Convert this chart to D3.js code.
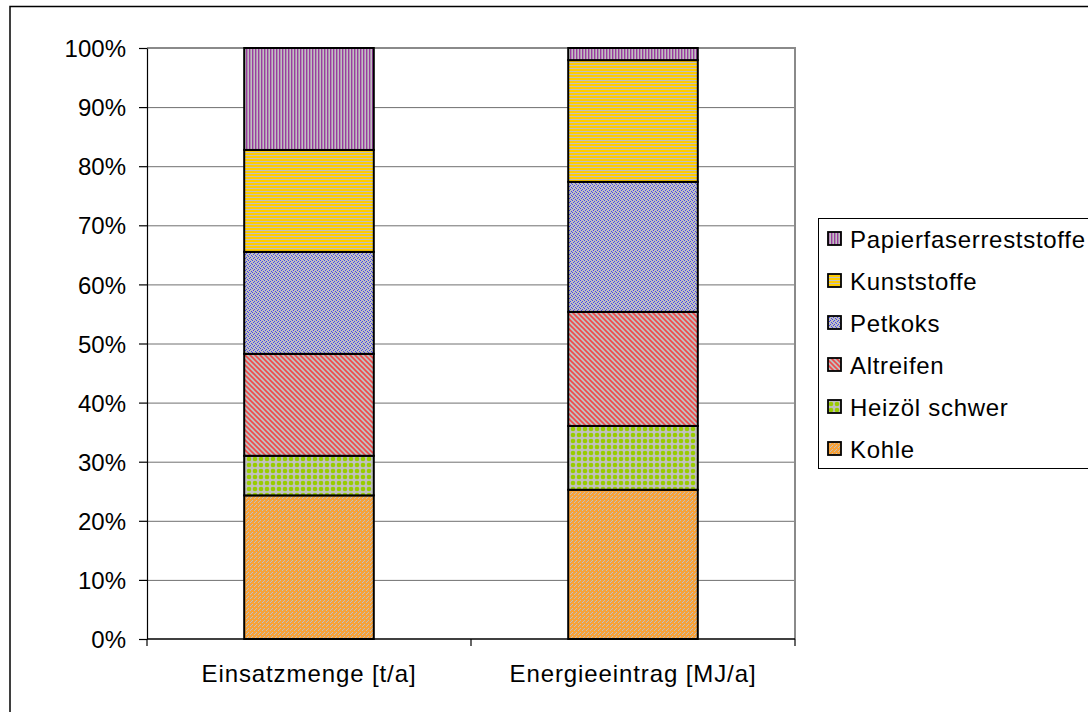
<!DOCTYPE html>
<html><head><meta charset="utf-8">
<script src="https://cdn.jsdelivr.net/npm/d3@7"></script>
<style>
html,body{margin:0;padding:0;background:#fff;}
svg{display:block;font-family:Arial,"Liberation Sans",sans-serif;}
</style></head>
<body>
<svg id="c" width="1088" height="712"></svg>
<script>
const categories = ["Einsatzmenge [t/a]", "Energieeintrag [MJ/a]"];
const seriesNames = ["Kohle", "Heizöl schwer", "Altreifen", "Petkoks", "Kunststoffe", "Papierfaserreststoffe"];
const kohle = [24.3, 25.25];
const heizoel = [6.7, 10.8];
const altreifen = [17.25, 19.3];
const petkoks = [17.25, 22.0];
const kunststoffe = [17.25, 20.6];
const papier = [17.25, 2.05];
const yTicks = [0,10,20,30,40,50,60,70,80,90,100];

const seriesValues = [kohle, heizoel, altreifen, petkoks, kunststoffe, papier];
const patIds = ["pKohle","pHeiz","pAlt","pPet","pKun","pPap"];

const svg = d3.select("#c");
const defs = svg.append("defs");
const GRAY = "#c0c0c0";
function pat(id, w, h, draw){
  const p = defs.append("pattern").attr("id", id).attr("patternUnits","userSpaceOnUse")
    .attr("width", w).attr("height", h);
  draw(p);
}
function px(p, pts, col){
  pts.forEach(([x,y]) => p.append("rect").attr("x",x).attr("y",y).attr("width",1).attr("height",1).attr("fill",col));
}
pat("pPap", 3, 3, p => {
  p.append("rect").attr("width",3).attr("height",3).attr("fill",GRAY);
  p.append("rect").attr("width",1.4).attr("height",3).attr("fill","#9a3ca0");
});
pat("pKun", 3, 3, p => {
  p.append("rect").attr("width",3).attr("height",3).attr("fill",GRAY);
  p.append("rect").attr("width",3).attr("height",2).attr("fill","#ffcc00");
});
pat("pPet", 4, 4, p => {
  p.append("rect").attr("width",4).attr("height",4).attr("fill",GRAY);
  px(p, [[0,0],[2,1],[1,2],[3,3]], "#4444f0");
});
pat("pAlt", 5, 5, p => {
  p.append("rect").attr("width",5).attr("height",5).attr("fill",GRAY);
  p.append("path").attr("d","M-1,-1L6,6M-1,4L1,6M4,-1L6,1").attr("stroke","#f04848").attr("stroke-width",1.6);
});
pat("pHeiz", 6, 6, p => {
  p.append("rect").attr("width",6).attr("height",6).attr("fill",GRAY);
  p.append("circle").attr("cx",3).attr("cy",3).attr("r",2.3).attr("fill","#99cc00");
});
pat("pKohle", 4, 4, p => {
  p.append("rect").attr("width",4).attr("height",4).attr("fill","#f7a23a");
  px(p, [[0,0],[2,2],[3,1]], GRAY);
});

// outer chart border
svg.append("rect").attr("x",10).attr("y",6.5).attr("width",1100).attr("height",720)
  .attr("fill","none").attr("stroke","#000").attr("stroke-width",1.5);

const pLeft = 147, pRight = 795, pTop = 48, pBottom = 639;
const x = d3.scaleBand().domain(categories).range([pLeft, pRight]).paddingInner(0.6).paddingOuter(0.3);
const y = d3.scaleLinear().domain([0,100]).range([pBottom, pTop]);

// gridlines
svg.append("g").selectAll("line").data(yTicks.filter(t => t>0)).join("line")
  .attr("x1",pLeft).attr("x2",pRight).attr("y1",d=>y(d)+0.5).attr("y2",d=>y(d)+0.5)
  .attr("stroke","#707070").attr("stroke-width",1);
// plot area border (top and right)
svg.append("path").attr("d",`M${pLeft},${pTop}H${pRight}V${pBottom}`).attr("fill","none")
  .attr("stroke","#8a8a8a").attr("stroke-width",2);

// stacked bars
const rows = categories.map((c,i) => {
  const o = {cat:c};
  seriesNames.forEach((s,j) => o[s] = seriesValues[j][i]);
  return o;
});
const stack = d3.stack().keys(seriesNames)(rows);
const gBars = svg.append("g");
stack.forEach((layer, j) => {
  gBars.selectAll(null).data(layer).join("rect")
    .attr("x", d => x(d.data.cat))
    .attr("width", x.bandwidth())
    .attr("y", d => y(d[1]))
    .attr("height", d => y(d[0]) - y(d[1]))
    .attr("fill", `url(#${patIds[j]})`)
    .attr("stroke","#000").attr("stroke-width",2);
});

// y axis
const yAxis = d3.axisLeft(y).tickValues(yTicks).tickFormat(d => d + "%").tickSize(8).tickSizeOuter(0).tickPadding(13);
const ga = svg.append("g").attr("transform",`translate(${pLeft},0)`).call(yAxis);
ga.select(".domain").attr("stroke","#000").attr("stroke-width",1.2);
ga.selectAll(".tick line").attr("stroke","#000").attr("stroke-width",1.2);
ga.selectAll(".tick text").attr("font-size",24).attr("fill","#000")
  .attr("font-family","Arial, 'Liberation Sans', sans-serif").attr("dy","0.36em");

// x axis
const xAxis = d3.axisBottom(x).tickSize(0).tickPadding(0);
const gx = svg.append("g").attr("transform",`translate(0,${pBottom})`).call(xAxis);
gx.select(".domain").remove();
gx.append("line").attr("x1",pLeft).attr("x2",pRight).attr("stroke","#000").attr("stroke-width",1.5);
const bounds = [pLeft, (pLeft+pRight)/2, pRight];
gx.selectAll(".bt").data(bounds).join("line").attr("class","bt")
  .attr("x1",d=>d).attr("x2",d=>d).attr("y1",0).attr("y2",7).attr("stroke","#000").attr("stroke-width",1.2);
gx.selectAll(".tick text").attr("font-size",24).attr("fill","#000")
  .attr("font-family","Arial, 'Liberation Sans', sans-serif")
  .attr("letter-spacing","0.9px").attr("y",43).attr("dy",0);

// legend
const lg = svg.append("g");
lg.append("rect").attr("x",818.5).attr("y",218.5).attr("width",300).attr("height",250)
  .attr("fill","#fff").attr("stroke","#000").attr("stroke-width",1);
const legendOrder = seriesNames.map((s,j)=>({s, j})).reverse();
const li = lg.selectAll(".li").data(legendOrder).join("g").attr("class","li")
  .attr("transform",(d,i)=>`translate(828,${239 + i*42})`);
li.append("rect").attr("x",0).attr("y",-7).attr("width",13).attr("height",13)
  .attr("fill",d=>`url(#${patIds[d.j]})`).attr("stroke","#000").attr("stroke-width",1.8);
li.append("text").attr("x",22).attr("y",0).attr("dy","0.36em").attr("font-size",24)
  .attr("letter-spacing","0.7px").attr("fill","#000").text(d=>d.s);
</script>
</body></html>
